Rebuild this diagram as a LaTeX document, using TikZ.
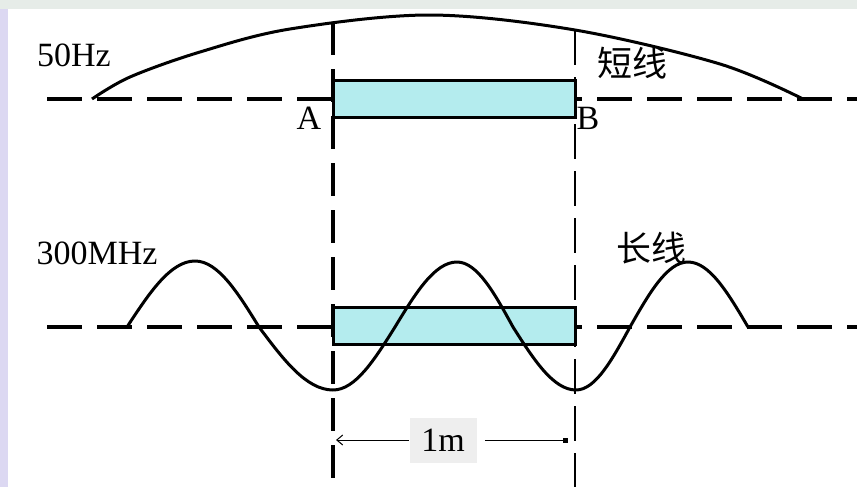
\documentclass[tikz,border=0pt]{standalone}
\usepackage{fontspec}
\setmainfont{Liberation Serif}
\newfontfamily\cjkfont{Noto Sans CJK SC}
\usetikzlibrary{arrows.meta}
\definecolor{BarCyan}{HTML}{B4ECEE}
\definecolor{SlideLav}{HTML}{DCD8F2}
\definecolor{SlideTop}{HTML}{E6ECE8}
\definecolor{TagGray}{HTML}{EEEEEE}

\begin{document}
\begin{tikzpicture}[x=0.5pt, y=-0.5pt,
    axisline/.style={line width=1.75pt, dash pattern=on 17.5pt off 7.5pt},
    leftline/.style={line width=1.6pt, dash pattern=on 16.5pt off 7pt},
    rightline/.style={line width=1pt, dash pattern=on 17.5pt off 6pt},
    wave/.style={line width=1.5pt, line join=round},
    bar/.style={line width=1.5pt, fill=BarCyan},
    dimline/.style={line width=0.5pt},
    lbl/.style={font=\fontsize{17}{19}\selectfont, inner sep=0pt},
    cjk/.style={font=\fontsize{17.5}{19}\selectfont\cjkfont, inner sep=0pt}]
  \useasboundingbox (0,0) rectangle (857,487);
  % slide background
  \fill[SlideLav] (0,0) rectangle (857,487);
  \fill[SlideTop] (0,0) rectangle (857,9);
  \fill[white] (8,9) rectangle (857,487);

  % the two lines
  \draw[axisline] (47,99) -- (857,99);
  \draw[axisline] (47,327) -- (857,327);
  \coordinate (A) at (333,22);
  \coordinate (B) at (575,30);
  \draw[leftline] (A) -- (333,487);
  \draw[rightline] (B) -- (575,487);

  % conductors
  \draw[bar] (333,80) rectangle (575,117);
  \draw[bar] (333,307) rectangle (575,344);

  % 50Hz wave
  \draw[wave] plot[smooth, tension=0.55] coordinates {(92,99) (130,77)
    (200,52) (290,29) (430,15) (575,30) (720,64) (803,99)};

  % 300MHz wave
  \draw[wave] (127,327) sin (195,261) cos (259,327) sin (333,390) cos (395,327)
    sin (457,262) cos (513,327) sin (576,390) cos (630,327) sin (688,262)
    cos (748,327);

  % labels
  \node[lbl] (f50) at (74,55) {50Hz};
  \node[lbl] (f300) at (97,253) {300MHz};
  \node[cjk] (short) at (632,63) {短线};
  \node[cjk] (long) at (651,248) {长线};
  \node[lbl] (la) at (309,118) {A};
  \node[lbl] (lb) at (588,118) {B};

  % 1m
  \coordinate (dimL) at (336,440);
  \coordinate (dimR) at (568,440);
  \node[lbl, fill=TagGray, minimum width=33.5pt, minimum height=22.5pt] (tag) at (443,440) {1m};
  \draw[dimline, {Straight Barb[length=3pt, width=5pt]}-] (dimL) -- (tag.west);
  \draw[dimline, -{Square[length=2.5pt, width=2.5pt]}] ([xshift=4pt]tag.east) -- (dimR);
\end{tikzpicture}
\end{document}
